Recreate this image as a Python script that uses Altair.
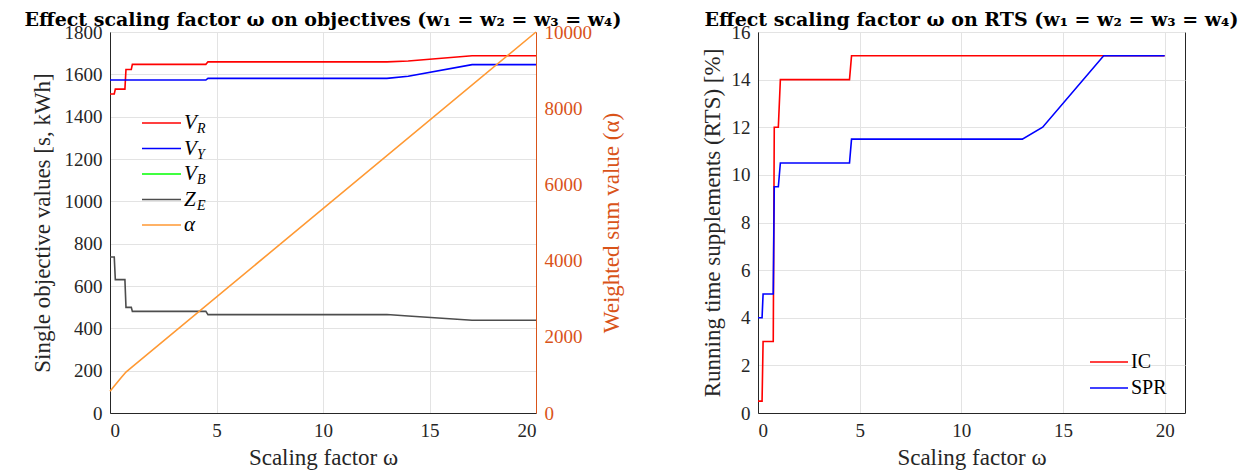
import altair as alt
import pandas as pd

# ---------------- data ----------------
omega_obj = [0, 0.2, 0.25, 0.7, 0.75, 1.0, 1.05, 4.5, 4.6, 13, 14, 17, 20]
v_r = [1507, 1507, 1530, 1530, 1623, 1623, 1647, 1647, 1659, 1659, 1663, 1688, 1688]
v_y = [1573, 1573, 1573, 1573, 1573, 1573, 1573, 1573, 1581, 1581, 1591, 1646, 1646]
z_e = [737, 737, 630, 630, 499, 499, 480, 480, 465, 465, 458, 438, 438]
omega_vb = []
v_b = []

omega_alpha = [0, 0.25, 0.5, 0.75, 1.0, 20]
alpha_vals = [568, 740, 910, 1075, 1190, 10000]

omega_ic = [0, 0.2, 0.25, 0.75, 0.8, 1.0, 1.1, 4.5, 4.6, 20]
ic = [0.5, 0.5, 3, 3, 12, 12, 14, 14, 15, 15]
omega_spr = [0, 0.2, 0.25, 0.75, 0.8, 1.0, 1.1, 4.5, 4.6, 13, 14, 17, 20]
spr = [4, 4, 5, 5, 9.5, 9.5, 10.5, 10.5, 11.5, 11.5, 12, 15, 15]

obj_keys = ["V_R", "V_Y", "V_B", "Z_E", "alpha"]
obj_main = ["V", "V", "V", "Z", "α"]
obj_sub = ["R", "Y", "B", "E", ""]
obj_colors = ["#FF0000", "#0000FF", "#00FF00", "#4D4D4D", "#FF9933"]

rts_keys = ["IC", "SPR"]
rts_colors = ["#FF0000", "#0000FF"]

FONT = "'Liberation Serif', 'Times New Roman', serif"
TITLE_FONT = "'DejaVu Serif', 'Liberation Serif', serif"
AX = "#262626"
ORANGE_AX = "#D95319"
LBL = 19
TTL = 23

# ---------------- tables ----------------
def long(xs, ys, key):
    return pd.DataFrame({"omega": xs, "value": ys, "series": key})

obj_df = pd.concat([
    long(omega_obj, v_r, "V_R"),
    long(omega_obj, v_y, "V_Y"),
    long(omega_vb, v_b, "V_B"),
    long(omega_obj, z_e, "Z_E"),
], ignore_index=True)
alpha_df = long(omega_alpha, alpha_vals, "alpha")
leg_obj = pd.DataFrame({"row": list(range(len(obj_keys))), "series": obj_keys,
                        "main": obj_main, "sub": obj_sub})

rts_df = pd.concat([long(omega_ic, ic, "IC"), long(omega_spr, spr, "SPR")],
                   ignore_index=True)
leg_rts = pd.DataFrame({"row": list(range(len(rts_keys))), "series": rts_keys})

obj_color = alt.Color("series:N", scale=alt.Scale(domain=obj_keys, range=obj_colors), legend=None)
rts_color = alt.Color("series:N", scale=alt.Scale(domain=rts_keys, range=rts_colors), legend=None)


def axis(title, values, **kw):
    base = dict(title=title, values=values, format="d", labelFont=FONT, titleFont=FONT,
                labelFontSize=LBL, titleFontSize=TTL, titleFontWeight="normal",
                labelColor=AX, titleColor=AX, domainColor=AX, ticks=False,
                gridColor="#E3E3E3", labelPadding=8)
    base.update(kw)
    return alt.Axis(**base)


W, H = 426, 381

# ---------------- left panel ----------------
x_left = alt.X("omega:Q", scale=alt.Scale(domain=[0, 20], nice=False),
               axis=axis("Scaling factor ω", [0, 5, 10, 15, 20], titlePadding=6))

lines_obj = alt.Chart(obj_df).mark_line(strokeWidth=1.6).encode(
    x=x_left,
    y=alt.Y("value:Q", scale=alt.Scale(domain=[0, 1800], nice=False),
            axis=axis("Single objective values [s, kWh]", list(range(0, 1801, 200)),
                      titlePadding=10)),
    color=obj_color,
    detail="series:N",
)

line_alpha = alt.Chart(alpha_df).mark_line(strokeWidth=1.6).encode(
    x=x_left,
    y=alt.Y("value:Q", scale=alt.Scale(domain=[0, 10000], nice=False),
            axis=axis("Weighted sum value (α)", list(range(0, 10001, 2000)),
                      orient="right", grid=False, titleAngle=270, titlePadding=32,
                      labelColor=ORANGE_AX, titleColor=ORANGE_AX,
                      domainColor=ORANGE_AX, zindex=1)),
    color=obj_color,
)

leg_y_obj = alt.Y("row:O", scale=alt.Scale(type="point", range=[91, 193], padding=0), axis=None)
leg_rule_obj = alt.Chart(leg_obj).mark_rule(strokeWidth=1.6).encode(
    x=alt.value(32), x2=alt.value(71), y=leg_y_obj, color=obj_color)
leg_main_obj = alt.Chart(leg_obj).mark_text(
    align="left", baseline="middle", font=FONT, fontStyle="italic", fontSize=21, color="#000000"
).encode(x=alt.value(74), y=leg_y_obj, text="main:N")
leg_sub_obj = alt.Chart(leg_obj).mark_text(
    align="left", baseline="middle", font=FONT, fontStyle="italic", fontSize=14, dy=6, color="#000000"
).encode(x=alt.value(87), y=leg_y_obj, text="sub:N")

left = alt.layer(lines_obj, line_alpha, leg_rule_obj, leg_main_obj, leg_sub_obj).resolve_scale(
    y="independent"
).properties(
    width=W, height=H,
    title=alt.TitleParams("Effect scaling factor ω on objectives (w₁ = w₂ = w₃ = w₄)"),
)

# ---------------- right panel ----------------
lines_rts = alt.Chart(rts_df).mark_line(strokeWidth=1.6).encode(
    x=alt.X("omega:Q", scale=alt.Scale(domain=[0, 21], nice=False),
            axis=axis("Scaling factor ω", [0, 5, 10, 15, 20], titlePadding=6)),
    y=alt.Y("value:Q", scale=alt.Scale(domain=[0, 16], nice=False),
            axis=axis("Running time supplements (RTS) [%]", list(range(0, 17, 2)),
                      titlePadding=7)),
    color=rts_color,
    detail="series:N",
)
leg_y_rts = alt.Y("row:O", scale=alt.Scale(type="point", range=[330, 356], padding=0), axis=None)
leg_rule_rts = alt.Chart(leg_rts).mark_rule(strokeWidth=1.6).encode(
    x=alt.value(332), x2=alt.value(370), y=leg_y_rts, color=rts_color)
leg_text_rts = alt.Chart(leg_rts).mark_text(
    align="left", baseline="middle", font=FONT, fontSize=20, color="#000000"
).encode(x=alt.value(373), y=leg_y_rts, text="series:N")

right = alt.layer(lines_rts, leg_rule_rts, leg_text_rts).resolve_scale(
    y="independent"
).properties(
    width=427, height=H,
    title=alt.TitleParams("Effect scaling factor ω on RTS (w₁ = w₂ = w₃ = w₄)"),
)

chart = alt.hconcat(left, right, spacing=76).properties(
    padding={"left": 16, "top": 2, "right": 0, "bottom": 0}
).configure(
    font=FONT,
    style={"guide-label": {"font": FONT}, "guide-title": {"font": FONT}},
).configure_axis(
    labelFont=FONT, titleFont=FONT
).configure_view(
    stroke=AX, strokeWidth=1
).configure_title(
    font=TITLE_FONT, fontSize=19, fontWeight="bold", color="#000000",
    anchor="middle", frame="group", offset=-7,
)

chart.save("out.html", embed_options={"renderer": "svg", "actions": False})
